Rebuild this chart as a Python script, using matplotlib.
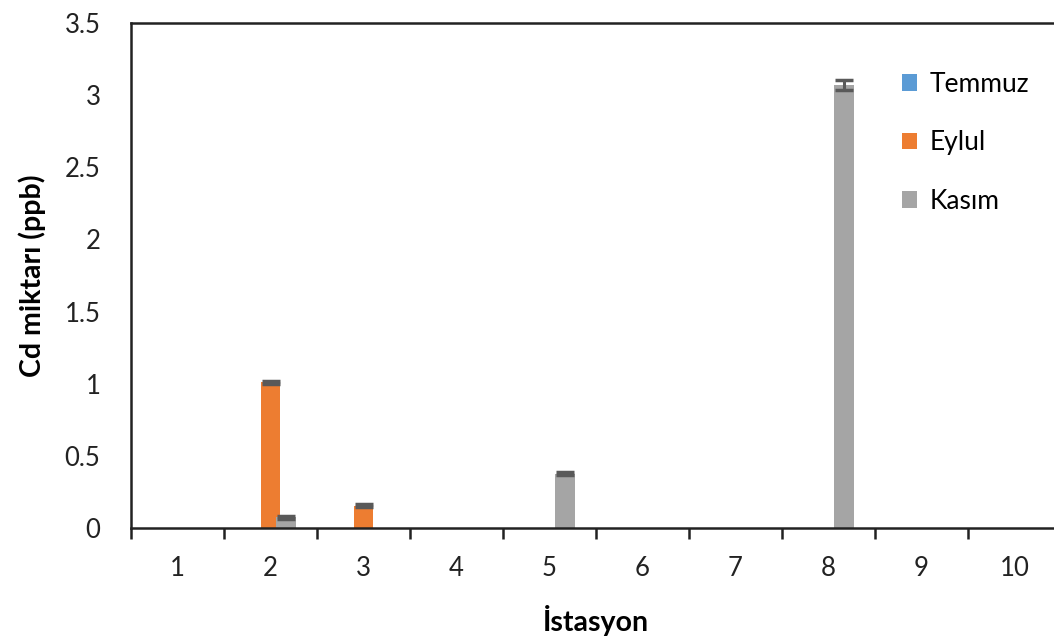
import matplotlib
matplotlib.use("Agg")
import matplotlib.pyplot as plt
import numpy as np

stations = ["1", "2", "3", "4", "5", "6", "7", "8", "9", "10"]
series_names = ["Temmuz", "Eylul", "Kasım"]
temmuz = [0, 0, 0, 0, 0, 0, 0, 0, 0, 0]
eylul = [0, 1.01, 0.155, 0, 0, 0, 0, 0, 0, 0]
kasim = [0, 0.075, 0, 0, 0.375, 0, 0, 3.07, 0, 0]
temmuz_err = [0, 0, 0, 0, 0, 0, 0, 0, 0, 0]
eylul_err = [0, 0.01, 0.01, 0, 0, 0, 0, 0, 0, 0]
kasim_err = [0, 0.01, 0, 0, 0.01, 0, 0, 0.035, 0, 0]
yticks = [0, 0.5, 1, 1.5, 2, 2.5, 3, 3.5]
ytick_labels = ["0", "0.5", "1", "1.5", "2", "2.5", "3", "3.5"]

colors = ["#5B9BD5", "#ED7D31", "#A5A5A5"]
plt.rcParams['font.family'] = ['Lato', 'DejaVu Sans']

W, H = 1054, 642
fig = plt.figure(figsize=(W / 100, H / 100), dpi=100)
left, bottom, top = 131, 528, 23
right = 131 + 10 * 93
ax = fig.add_axes([left / W, (H - bottom) / H, (right - left) / W, (bottom - top) / H])

x = np.arange(1, 11)
bw = 0.215
offs = [-0.165, 0.0, 0.165]
data = [temmuz, eylul, kasim]
errs = [temmuz_err, eylul_err, kasim_err]
for i in range(3):
    vals = np.array(data[i], dtype=float)
    ax.bar(x + offs[i], vals, width=bw, color=colors[i], label=series_names[i], zorder=2)
    e = np.array(errs[i], dtype=float)
    m = e > 0
    if m.any():
        ax.errorbar((x + offs[i])[m], vals[m], yerr=e[m], fmt='none', ecolor="#595959",
                    elinewidth=2.2, capsize=6.5, capthick=2.5, zorder=3)

ax.set_xlim(0.5, 10.5)
ax.set_ylim(0, 3.5)
ax.set_yticks(yticks)
ax.set_yticklabels(ytick_labels)
ax.tick_params(axis='y', length=0, pad=22, labelsize=18.5, labelcolor="#222222")
ax.set_xticks(np.arange(0.5, 10.6, 1.0))
ax.set_xticklabels([])
ax.set_xticks(x, minor=True)
ax.set_xticklabels(stations, minor=True)
ax.tick_params(axis='x', which='major', direction='out', length=8, width=1.8, color="#222222")
ax.tick_params(axis='x', which='minor', length=0, pad=20, labelsize=18.5, labelcolor="#222222")

for s in ['left', 'bottom', 'top']:
    ax.spines[s].set_linewidth(1.8)
    ax.spines[s].set_color("#222222")
ax.spines['right'].set_visible(False)

ax.set_ylabel("Cd miktarı (ppb)", fontsize=20.5, fontweight='bold')
ax.set_xlabel("İstasyon", fontsize=20.5, fontweight='bold')
ax.yaxis.set_label_coords(-(131 - 32) / (right - left), 0.5)
ax.xaxis.set_label_coords(0.5, -(620 - 528) / 505)
ax.xaxis.label.set_va('center')
ax.yaxis.label.set_va('center')

leg = ax.legend(loc='upper left', bbox_to_anchor=((891 - left) / (right - left), (528 - 61) / 505),
                frameon=False, fontsize=19, handlelength=0.6, handleheight=0.6,
                handletextpad=0.45, labelspacing=1.28, borderaxespad=0)

fig.savefig("out.png", dpi=100)
